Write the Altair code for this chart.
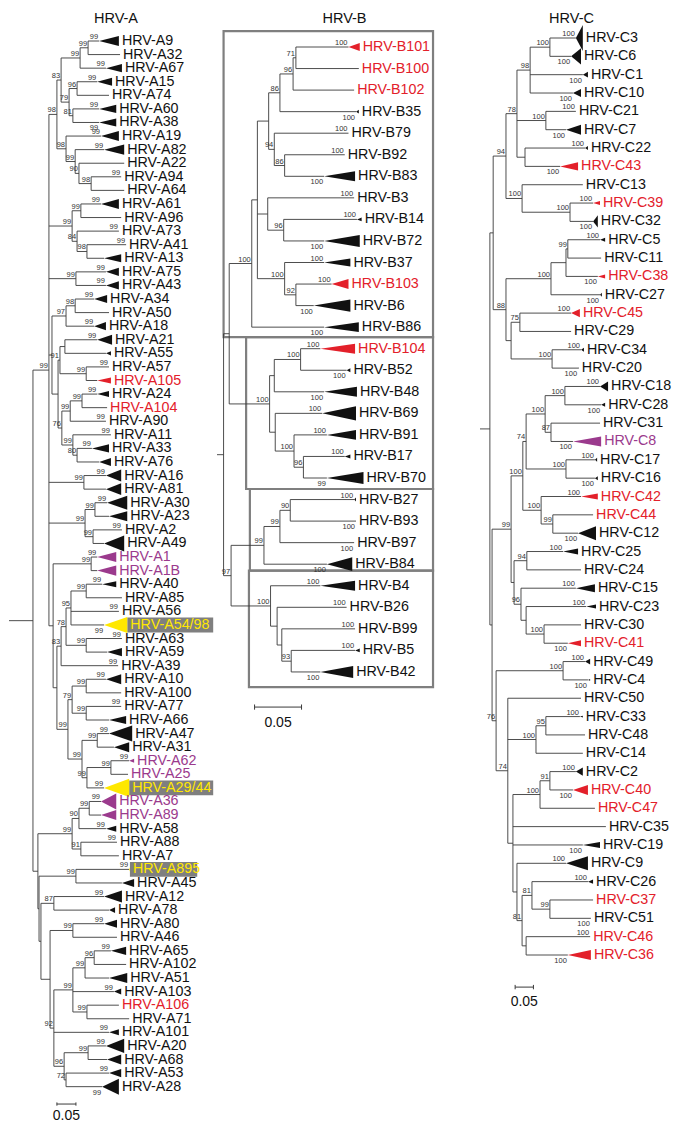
import altair as alt
import pandas as pd

FONT = "Liberation Sans"
LINE = "#3a3a3a"
COLORS = {"k": "#111111", "n": "#e3202a", "p": "#9b3a8d", "y": "#ffe800"}
BOX_GREY = "#7f7f7f"

# ---------------------------------------------------------------- HRV-A
# depths in 0.001 substitutions/site; internal node syntax: (children)bootstrap:depth
A_names = ["A9", "A32", "A67", "A15", "A74", "A60", "A38", "A19", "A82", "A22", "A94", "A64",
           "A61", "A96", "A73", "A41", "A13", "A75", "A43", "A34", "A50", "A18", "A21", "A55", "A57", "A105",
           "A24", "A104", "A90", "A11", "A33", "A76", "A16", "A81", "A30", "A23", "A2", "A49", "A1", "A1B",
           "A40", "A85", "A56", "A54/98", "A63", "A59", "A39", "A10", "A100", "A77", "A66", "A47", "A31",
           "A62", "A25", "A29/44", "A36", "A89", "A58", "A88", "A7", "A895", "A45", "A12", "A78", "A80",
           "A46", "A65", "A102", "A51", "A103", "A106", "A71", "A101", "A20", "A68", "A53", "A28"]
A_apex = [237, 292, 255, 232, 263, 237, 237, 242, 250, 303, 295, 303,
          242, 295, 289, 308, 250, 255, 255, 224, 263, 224, 232, 255, 263, 232,
          232, 258, 255, 268, 218, 237, 255, 255, 258, 263, 297, 250, 232, 232,
          245, 297, 289, 250, 297, 258, 287, 255, 295, 295, 263, 263, 276,
          316, 313, 250, 242, 242, 255, 284, 289, 316, 297, 250, 263, 250,
          284, 268, 308, 263, 276, 289, 316, 263, 255, 258, 263, 245]
A_end = [289, 292, 297, 271, 263, 282, 282, 289, 303, 303, 295, 303,
         289, 295, 289, 308, 295, 289, 289, 258, 263, 255, 271, 268, 263, 268,
         263, 258, 255, 268, 263, 268, 295, 295, 311, 311, 297, 303, 282, 282,
         282, 297, 289, 311, 297, 297, 287, 295, 295, 295, 308, 324, 316,
         329, 313, 316, 282, 282, 282, 284, 289, 318, 329, 297, 279, 284,
         284, 308, 308, 311, 295, 289, 316, 289, 303, 295, 295, 289]
A_spread = [.37, 0, .3, .3, 0, .3, .3, .37, .37, 0, 0, 0,
            .37, 0, 0, 0, .3, .3, .3, .3, 0, .3, .37, .15, 0, .22,
            .22, 0, 0, 0, .3, .3, .44, .44, .52, .37, 0, .59, .37, .37,
            .22, 0, 0, .59, 0, .3, 0, .37, 0, 0, .3, .59, .37,
            .15, 0, .67, .59, .37, .22, 0, 0, .15, .3, .44, .22, .3,
            0, .3, 0, .37, .22, 0, 0, .22, .52, .37, .3, .59]
A_boot = ["99", "", "99", "99", "", "99", "99", "99", "99", "", "99", "",
          "99", "", "99", "99", "", "99", "99", "99", "", "99", "99", "", "99", "",
          "99", "", "99", "99", "99", "", "99", "", "99", "", "99", "", "99", "",
          "99", "", "99", "99", "99", "", "99", "99", "", "99", "", "99", "",
          "99", "", "99", "99", "", "99", "99", "", "99", "", "99", "", "99",
          "", "99", "", "", "99", "", "", "99", "99", "", "99", "99"]
A_boot_below = ["A38", "A54/98", "A28"]
A_novel = ["A105", "A104", "A106"]
A_purple = ["A1", "A1B", "A62", "A25", "A36", "A89"]
A_boxed = {"A54/98": 537, "A29/44": 537, "A895": 495}

A_T1 = ("((((A9,A32)99:208,A67)99:187,((A15,A74)96:179,(A60,A38)81:168)79:158)83:137,"
        "(A19,(A82,(A22,(A94,A64)98:216)90:184)99:174)98:150)98:126")
A_T2 = "((A61,A96)99:189,(A73,(A41,A13)98:205)84:179)99:166"
A_T3 = "(A75,A43)99:176"
A_Tb = ("(((A34,A50)98:174,A18)97:150,(((A21,A55):147,(A57,A105)99:203)91:134,"
        "(((A24,A104)99:192,A90)99:161,(A11,(A33,A76)80:179)99:168)76:139):129):113")
A_T16 = "(A16,A81)99:197"
A_T30 = "((A30,A23)99:226,(A2,A49)99:221)99:200"
A_Mid = ("((A1,A1B)99:216,(((((A40,A85)99:203,A56,A54/98)95:163,(A63,A59)99:203)78:150,A39)83:137,"
         "(((A10,A100)99:203,(A77,A66)99:203)79:166,((A47,A31)99:232,((A62,A25)99:268,A29/44)99:205)99:192)99:155):126):116")
A_Upper = "(" + ",".join([A_T1, A_T2, A_T3, A_Tb, A_T16, A_T30, A_Mid]) + ")99:105"
A_Lower = ("((((A36,A89)99:211,A58)90:184,(A88,A7)91:189)99:166,"
           "((A895,A45)99:176,((A12,A78)87:118,((A80,A46)99:168,"
           "((((A65,A102)96:224,A51)99:200,A103,(A106,A71)99:205)99:168,A101,"
           "((A20,A68)99:208,(A53,A28)72:150)96:145)92:118):108):84):79):76")
A_tree = "(" + A_Upper + "," + A_Lower + "):63"
A_bar = {"start": 126, "row": 78.28, "text_row": 79.16}

# ---------------------------------------------------------------- HRV-B
B_names = ["B101", "B100", "B102", "B35", "B79", "B92", "B83", "B3", "B14", "B72", "B37", "B103", "B6", "B86",
           "B104", "B52", "B48", "B69", "B91", "B17", "B70", "B27", "B93", "B97", "B84",
           "B4", "B26", "B99", "B5", "B42"]
B_apex = [140, 151, 146, 148, 140, 136, 114, 146, 149, 114, 114, 122, 103, 114,
          110, 138, 114, 112, 117, 136, 117, 146, 148, 146, 117, 110, 138, 147, 147, 110]
B_end = [152, 151, 146, 151, 140, 136, 147, 146, 154, 152, 142, 140, 142, 151,
         147, 142, 149, 148, 148, 142, 156, 148, 148, 146, 144, 147, 138, 147, 152, 145]
B_spread = [.19, 0, 0, .09, 0, 0, .23, 0, .09, .28, .19, .23, .28, .23,
            .23, .09, .23, .33, .23, .09, .28, .09, 0, 0, .32, .23, 0, 0, .09, .28]
B_boot = ["100", "", "", "100", "100", "100", "100", "100", "100", "100", "100", "100", "100", "100",
          "100", "100", "100", "100", "100", "100", "99", "100", "100", "100", "100",
          "100", "100", "100", "100", "100"]
B_boot_below = ["B35", "B83", "B72", "B6", "B86", "B52", "B48", "B70", "B93", "B97", "B84", "B42"]
B_novel = ["B101", "B100", "B102", "B103", "B104"]
B_tree = ("((((((((B101,B100)71:84,B102)96:81,B35)86:67,(B79,(B92,B83)86:72)94:61):55,"
          "(B3,(B14,B72)96:71):54,(B37,(B103,B6)92:84)100:72):43,B86)100:37,"
          "(((B104,B52)100:89,B48):61,(B69,(B91,(B17,B70)96:92)100:82):62)100:56):13,"
          "((((B27,B93)90:78,B97)99:67,B84)99:50,(B4,(B26,(B99,(B5,B42)93:79):69):64)100:57)97:15):7")
B_group_rows = [(-0.74, 13.46), (13.46, 20.51), (20.51, 24.3), (24.3, 29.7)]
B_group_left = [7, 31, 35, 34]
B_group_right = 230
B_bar = {"start": 40, "row": 30.63, "text_row": 31.35}

# ---------------------------------------------------------------- HRV-C
C_names = ["C3", "C6", "C1", "C10", "C21", "C7", "C22", "C43", "C13", "C39", "C32", "C5", "C11", "C38", "C27",
           "C45", "C29", "C34", "C20", "C18", "C28", "C31", "C8", "C17", "C16", "C42", "C44", "C12", "C25",
           "C24", "C15", "C23", "C30", "C41", "C49", "C4", "C50", "C33", "C48", "C14", "C2", "C40", "C47",
           "C35", "C19", "C9", "C26", "C37", "C51", "C46", "C36"]
C_apex = [262, 249, 281, 254, 262, 235, 287, 219, 281, 309, 309, 328, 331, 322, 328, 249, 249, 276, 268, 328,
          331, 328, 254, 314, 314, 276, 309, 268, 227, 276, 262, 290, 276, 240, 287, 295, 276, 273, 287, 281,
          262, 254, 314, 344, 281, 235, 295, 309, 303, 301, 240]
C_end = [281, 276, 295, 276, 262, 276, 295, 268, 281, 328, 322, 342, 331, 342, 333, 273, 249, 284, 270, 350,
         342, 328, 331, 320, 322, 322, 309, 317, 268, 276, 314, 317, 276, 276, 301, 301, 276, 281, 287, 281,
         281, 295, 314, 344, 328, 295, 309, 309, 303, 301, 303]
C_spread = [.71, .44, .16, .22, 0, .27, .11, .22, 0, .11, .33, .11, 0, .11, .11, .22, 0, .11, .05, .27,
            .11, 0, .27, .11, .11, .16, 0, .38, .16, 0, .22, .11, 0, .16, .16, .05, 0, .05, 0, 0,
            .22, .27, 0, 0, .16, .38, .11, 0, 0, 0, .27]
C_no_boot = ["C13", "C11", "C29", "C31", "C44", "C24", "C30", "C50", "C48", "C14", "C47", "C35", "C37"]
C_boot = ["" if n in C_no_boot else "100" for n in C_names]
C_boot_below = ["C6", "C1", "C10", "C7", "C43", "C32", "C38", "C27", "C20", "C28", "C8", "C16", "C12",
                "C41", "C4", "C40", "C19", "C51", "C36"]
C_novel = ["C43", "C39", "C38", "C45", "C42", "C44", "C41", "C40", "C47", "C37", "C46", "C36"]
C_purple = ["C8"]
C_tree = ("((((((C3,C6)100:191,C1,C10)98:137,(C21,C7)100:180,(C22,C43):123)78:101,"
          "(C13,(C39,C32)100:246)100:115)94:71,"
          "((((C5,C11)99:240,C38):235,C27)100:194,((C45,C29)75:109,(C34,C20)100:197):85)88:71):36,"
          "((((((C18,C28)100:232,(C31,C8)87:194)100:178,(C17,C16)100:235)74:126,"
          "(C42,(C44,C12)99:199)100:167)100:117,"
          "((C25,C24)94:128,(C15,(C23,(C30,C41)100:175):126)96:112):93)99:85,"
          "((C49,C4)100:227,(C50,((C33,C48)95:180,C14)100:153,"
          "(((C2,C40)91:191,C47)100:164,C35,C19,(C9,((C26,(C37,C51)99:191)81:142,(C46,C36):126)81:115):101):90)74:76)76:44):33):27")
C_bar = {"start": 96, "row": 51.75, "text_row": 52.55}


# ---------------------------------------------------------------- helpers
def parse(s):
    pos = 0

    def node():
        nonlocal pos
        if s[pos] == "(":
            pos += 1
            kids = [node()]
            while s[pos] == ",":
                pos += 1
                kids.append(node())
            pos += 1  # ')'
            st = pos
            while s[pos] != ":":
                pos += 1
            boot = s[st:pos]
            pos += 1
            st = pos
            while pos < len(s) and s[pos] not in ",)":
                pos += 1
            return {"children": kids, "boot": boot, "depth": float(s[st:pos])}
        st = pos
        while pos < len(s) and s[pos] not in ",)":
            pos += 1
        return {"name": s[st:pos]}

    return node()


def tree_frames(newick, names, apex):
    root = parse(newick)
    idx = {n: i for i, n in enumerate(names)}
    order = []

    def place(n):
        if "name" in n:
            n["y"] = len(order)
            order.append(n["name"])
            n["x"] = apex[idx[n["name"]]]
        else:
            for c in n["children"]:
                place(c)
            n["y"] = (n["children"][0]["y"] + n["children"][-1]["y"]) / 2
            n["x"] = n["depth"]

    place(root)
    assert order == names, [(a, b) for a, b in zip(order, names) if a != b][:3]
    segs, boots = [], []

    def walk(n):
        if "children" in n:
            segs.append(dict(x=n["x"], x2=n["x"], y=n["children"][0]["y"], y2=n["children"][-1]["y"]))
            if n["boot"]:
                boots.append(dict(x=n["x"], y=n["y"], t=n["boot"]))
            for c in n["children"]:
                segs.append(dict(x=n["x"], x2=c["x"], y=c["y"], y2=c["y"]))
                walk(c)

    walk(root)
    segs.append(dict(x=0, x2=root["x"], y=root["y"], y2=root["y"]))
    return pd.DataFrame(segs), pd.DataFrame(boots)


HEIGHT = 1112      # plot height of every panel (px)
PLOT_TOP = 8       # page y of the plot area's top edge


def panel(title, newick, names, apex, end, spread, boot, below, novel, purple, boxed,
          bar, xmax, width, row_top, row_step, title_dx, groups=None):
    d0 = -(row_top - PLOT_TOP) / row_step
    d1 = d0 + HEIGHT / row_step
    xs = alt.Scale(domain=[0, xmax], nice=False, zero=False)
    ys = alt.Scale(domain=[d0, d1], nice=False, zero=False, reverse=True)
    X = alt.X("x:Q", scale=xs, axis=None)
    Y = alt.Y("y:Q", scale=ys, axis=None)

    segs, nboots = tree_frames(newick, names, apex)

    cls = []
    for n in names:
        if n in boxed:
            cls.append("y")
        elif n in novel:
            cls.append("n")
        elif n in purple:
            cls.append("p")
        else:
            cls.append("k")

    tri, labs, lboots, boxes = [], [], [], []
    for i, n in enumerate(names):
        col = COLORS[cls[i]]
        if end[i] > apex[i]:
            tri.append(dict(leaf=n, x=apex[i], y=i, y2=i, col=col))
            tri.append(dict(leaf=n, x=end[i], y=i - spread[i], y2=i + spread[i], col=col))
        labs.append(dict(x=end[i], y=i, t="HRV-" + n, col=col))
        if boot[i]:
            lboots.append(dict(x=apex[i], y=i, t=boot[i], pos="b" if n in below else "a"))
        if n in boxed:
            boxes.append(dict(x=end[i], x2=boxed[n], y=i - 0.55, y2=i + 0.55))
    tri = pd.DataFrame(tri)
    labs = pd.DataFrame(labs)
    lboots = pd.DataFrame(lboots)
    ab = pd.concat([nboots.assign(pos="a"), lboots], ignore_index=True)

    layers = []
    if groups is not None:
        gdf = pd.DataFrame([dict(x=groups[1][k], x2=groups[2], y=r[0], y2=r[1])
                            for k, r in enumerate(groups[0])])
        layers.append(alt.Chart(gdf).mark_rect(fillOpacity=0, stroke=BOX_GREY, strokeWidth=2.2).encode(
            x=X, x2="x2:Q", y=Y, y2="y2:Q"))
    if boxes:
        layers.append(alt.Chart(pd.DataFrame(boxes)).mark_rect(color=BOX_GREY).encode(
            x=X, x2="x2:Q", y=Y, y2="y2:Q"))
    layers.append(alt.Chart(segs).mark_rule(color=LINE, strokeWidth=0.9).encode(
        x=X, x2="x2:Q", y=Y, y2="y2:Q"))
    layers.append(alt.Chart(tri).mark_area(orient="vertical", interpolate="linear").encode(
        x=X, y=Y, y2="y2:Q", detail="leaf:N", color=alt.Color("col:N", scale=None)))
    layers.append(alt.Chart(ab[ab.pos == "a"]).mark_text(
        align="right", baseline="bottom", dx=-1, dy=0, fontSize=7.5, font=FONT, color="#333").encode(
        x=X, y=Y, text="t:N"))
    layers.append(alt.Chart(ab[ab.pos == "b"]).mark_text(
        align="right", baseline="top", dx=-1, dy=2, fontSize=7.5, font=FONT, color="#333").encode(
        x=X, y=Y, text="t:N"))
    layers.append(alt.Chart(labs).mark_text(
        align="left", baseline="middle", dx=3, fontSize=14.3, font=FONT).encode(
        x=X, y=Y, text="t:N", color=alt.Color("col:N", scale=None)))
    # scale bar
    sb = pd.DataFrame([
        dict(x=bar["start"], x2=bar["start"] + 50, y=bar["row"], y2=bar["row"]),
        dict(x=bar["start"], x2=bar["start"], y=bar["row"] - 0.12, y2=bar["row"] + 0.12),
        dict(x=bar["start"] + 50, x2=bar["start"] + 50, y=bar["row"] - 0.12, y2=bar["row"] + 0.12),
    ])
    layers.append(alt.Chart(sb).mark_rule(color=LINE, strokeWidth=1).encode(
        x=X, x2="x2:Q", y=Y, y2="y2:Q"))
    st = pd.DataFrame([dict(x=bar["start"] + 25, y=bar["text_row"], t="0.05")])
    layers.append(alt.Chart(st).mark_text(fontSize=14, font=FONT, color="#111", baseline="middle").encode(
        x=X, y=Y, text="t:N"))
    # panel title
    layers.append(alt.Chart(pd.DataFrame({"t": [title]})).mark_text(
        fontSize=14.5, font=FONT, color="#111", baseline="middle", align="center").encode(
        x=alt.value(width / 2 + title_dx), y=alt.value(11), text="t:N"))

    return alt.layer(*layers).properties(width=width, height=HEIGHT)


# panel widths chosen so the whole chart (labels included) stays inside the 666 px page body
pA = panel("HRV-A", A_tree, A_names, A_apex, A_end, A_spread, A_boot, A_boot_below, A_novel, A_purple,
           A_boxed, A_bar, xmax=547, width=208, row_top=41, row_step=13.58, title_dx=3)
pB = panel("HRV-B", B_tree, B_names, B_apex, B_end, B_spread, B_boot, B_boot_below, B_novel, [],
           {}, B_bar, xmax=280, width=263, row_top=47, row_step=21.55, title_dx=-4,
           groups=(B_group_rows, B_group_left, B_group_right))
pC = panel("HRV-C", C_tree, C_names, C_apex, C_end, C_spread, C_boot, C_boot_below, C_novel, C_purple,
           {}, C_bar, xmax=511, width=187, row_top=38, row_step=18.34, title_dx=-2)

chart = alt.hconcat(pA, pB, pC, spacing=0, bounds="flush").properties(padding=0).configure_view(stroke=None)
chart.save("out.html", embed_options={"renderer": "svg", "actions": False})
